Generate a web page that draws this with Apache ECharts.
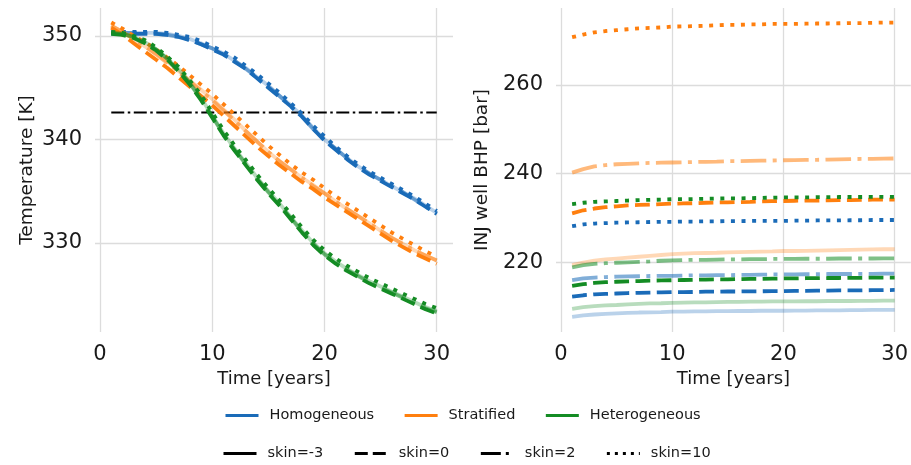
<!DOCTYPE html>
<html>
<head>
<meta charset="utf-8">
<script src="https://cdn.jsdelivr.net/npm/echarts@6/dist/echarts.min.js"></script>
<style>
html,body{margin:0;padding:0;background:#fff;}
#c{width:911px;height:465px;}
</style>
</head>
<body>
<div id="c"></div>
<script>
// ---------------- DATA ----------------
const years = [1,2,3,4,5,6,7,8,9,10,11,12,13,14,15,16,17,18,19,20,21,22,23,24,25,26,27,28,29,30];
const xTicks = [0, 10, 20, 30];

// Temperature [K] (left panel)
const tempHom_m3 = [350.3,350.3,350.3,350.3,350.3,350.2,350.0,349.7,349.3,348.8,348.3,347.6,346.9,346.0,345.2,344.2,343.3,342.3,341.1,340.0,339.1,338.2,337.4,336.7,336.1,335.5,334.9,334.3,333.6,332.9];
const tempHom_0  = [350.2,350.2,350.2,350.2,350.2,350.1,349.9,349.6,349.2,348.7,348.2,347.5,346.8,345.9,345.0,344.1,343.2,342.2,341.0,339.9,339.0,338.1,337.3,336.6,336.0,335.4,334.8,334.2,333.5,332.8];
const tempHom_2  = [350.3,350.3,350.3,350.3,350.2,350.1,349.9,349.6,349.2,348.8,348.2,347.6,346.8,346.0,345.1,344.2,343.2,342.2,341.0,340.0,339.1,338.2,337.4,336.7,336.1,335.5,334.9,334.2,333.5,332.9];
const tempHom_10 = [350.4,350.4,350.4,350.4,350.4,350.3,350.1,349.9,349.5,349.0,348.5,347.9,347.1,346.3,345.4,344.5,343.5,342.5,341.3,340.3,339.3,338.4,337.6,336.9,336.3,335.7,335.1,334.5,333.8,333.1];

const tempStr_m3 = [351.0,350.4,349.7,349.0,348.3,347.5,346.6,345.7,344.8,343.9,342.9,341.9,340.8,339.8,338.8,337.9,337.1,336.3,335.6,334.8,334.0,333.3,332.6,331.9,331.2,330.5,329.9,329.3,328.8,328.3];
const tempStr_0  = [350.8,350.1,349.3,348.5,347.7,346.9,346.0,345.1,344.2,343.3,342.3,341.3,340.3,339.3,338.4,337.5,336.7,335.9,335.2,334.4,333.7,333.0,332.3,331.6,330.9,330.2,329.6,329.0,328.5,328.0];
const tempStr_2  = [351.0,350.4,349.7,349.0,348.2,347.4,346.5,345.6,344.7,343.8,342.8,341.8,340.8,339.8,338.8,337.9,337.1,336.3,335.5,334.8,334.0,333.3,332.6,331.9,331.2,330.5,329.9,329.3,328.8,328.3];
const tempStr_10 = [351.3,350.7,350.0,349.4,348.7,347.9,347.1,346.2,345.3,344.4,343.4,342.4,341.4,340.4,339.4,338.5,337.6,336.8,336.1,335.3,334.5,333.8,333.1,332.4,331.7,331.0,330.4,329.8,329.2,328.7];

const tempHet_m3 = [350.3,350.2,349.9,349.4,348.7,347.8,346.8,345.5,344.0,342.3,340.6,339.1,337.7,336.3,335.0,333.8,332.5,331.2,330.0,329.0,328.2,327.5,326.9,326.3,325.8,325.3,324.8,324.3,323.8,323.4];
const tempHet_0  = [350.2,350.1,349.8,349.3,348.6,347.7,346.6,345.3,343.8,342.1,340.4,338.9,337.5,336.1,334.8,333.6,332.3,331.0,329.8,328.8,328.0,327.3,326.7,326.1,325.6,325.1,324.6,324.1,323.6,323.2];
const tempHet_2  = [350.3,350.2,349.9,349.4,348.7,347.8,346.7,345.4,343.9,342.2,340.5,339.0,337.6,336.2,334.9,333.7,332.4,331.1,329.9,328.9,328.1,327.4,326.8,326.2,325.7,325.2,324.7,324.2,323.7,323.3];
const tempHet_10 = [350.4,350.3,350.0,349.6,348.9,348.0,347.0,345.7,344.3,342.6,340.9,339.4,338.0,336.6,335.3,334.1,332.8,331.5,330.3,329.3,328.5,327.8,327.2,326.6,326.1,325.6,325.1,324.6,324.1,323.7];

const tempLimit = 342.6;
const tempLimitYears = [1, 30];

// INJ well BHP [bar] (right panel)
const bhpHom_m3 = [207.6,207.95,208.15,208.3,208.4,208.5,208.6,208.65,208.7,208.8,208.8,208.85,208.85,208.9,208.9,208.95,208.95,209.0,209.0,209.0,209.05,209.05,209.1,209.1,209.1,209.15,209.15,209.2,209.2,209.2];
const bhpHom_0  = [212.2,212.5,212.7,212.8,212.9,213.0,213.05,213.1,213.15,213.2,213.2,213.25,213.3,213.3,213.35,213.35,213.4,213.4,213.45,213.45,213.5,213.5,213.55,213.55,213.6,213.6,213.6,213.65,213.65,213.7];
const bhpHom_2  = [215.9,216.3,216.5,216.6,216.7,216.75,216.8,216.85,216.9,216.9,216.95,217.0,217.0,217.05,217.05,217.1,217.1,217.15,217.2,217.2,217.2,217.25,217.25,217.3,217.3,217.3,217.35,217.35,217.4,217.4];
const bhpHom_10 = [228.1,228.5,228.7,228.8,228.9,228.95,229.0,229.05,229.1,229.1,229.15,229.15,229.2,229.2,229.25,229.25,229.3,229.3,229.3,229.3,229.35,229.35,229.4,229.4,229.4,229.45,229.45,229.5,229.5,229.5];

const bhpStr_m3 = [219.3,219.9,220.3,220.6,220.8,221.0,221.2,221.4,221.6,221.8,221.9,222.0,222.05,222.1,222.2,222.25,222.3,222.35,222.4,222.5,222.5,222.55,222.6,222.65,222.7,222.75,222.8,222.85,222.9,222.9];
const bhpStr_0  = [231.0,231.7,232.1,232.4,232.6,232.8,232.9,233.0,233.1,233.2,233.25,233.3,233.4,233.45,233.5,233.55,233.6,233.7,233.75,233.8,233.85,233.9,233.9,233.95,234.0,234.0,234.05,234.1,234.1,234.1];
const bhpStr_2  = [240.2,241.0,241.6,241.9,242.1,242.2,242.3,242.4,242.45,242.5,242.55,242.6,242.65,242.7,242.8,242.8,242.85,242.9,242.95,243.0,243.05,243.1,243.1,243.15,243.2,243.25,243.3,243.3,243.35,243.4];
const bhpStr_10 = [270.8,271.4,271.9,272.2,272.4,272.6,272.8,272.9,273.0,273.2,273.25,273.3,273.4,273.5,273.6,273.6,273.7,273.7,273.8,273.8,273.8,273.85,273.9,273.9,273.95,274.0,274.0,274.05,274.1,274.1];

const bhpHet_m3 = [209.4,209.8,210.05,210.2,210.3,210.45,210.55,210.65,210.7,210.8,210.85,210.9,210.9,210.95,211.0,211.0,211.05,211.05,211.1,211.1,211.1,211.15,211.15,211.2,211.2,211.2,211.25,211.25,211.3,211.3];
const bhpHet_0  = [214.6,215.0,215.3,215.45,215.55,215.65,215.7,215.8,215.85,215.9,215.95,216.0,216.05,216.1,216.1,216.15,216.2,216.2,216.25,216.3,216.3,216.35,216.35,216.4,216.4,216.45,216.45,216.5,216.5,216.5];
const bhpHet_2  = [218.8,219.3,219.6,219.75,219.85,219.95,220.05,220.15,220.3,220.4,220.45,220.5,220.5,220.55,220.6,220.6,220.65,220.65,220.7,220.7,220.7,220.75,220.75,220.75,220.8,220.8,220.8,220.8,220.85,220.85];
const bhpHet_10 = [233.1,233.4,233.6,233.7,233.8,233.9,234.0,234.05,234.1,234.2,234.2,234.25,234.3,234.35,234.4,234.4,234.45,234.5,234.55,234.6,234.6,234.6,234.65,234.65,234.7,234.7,234.7,234.75,234.75,234.75];

const caseNames = ['Homogeneous', 'Stratified', 'Heterogeneous'];
const skinNames = ['skin=-3', 'skin=0', 'skin=2', 'skin=10'];

// ---------------- STYLE ----------------
const FONT = 'DejaVu Sans';
const caseColors = ['#1a6bb8', '#ff7f0e', '#148c24'];
const skinStyles = [
  { type: 'solid', opacity: 0.3 },
  { type: [14.8, 6.4], opacity: 1 },
  { type: [25.6, 6.4, 4, 6.4], opacity: 0.55 },
  { type: [4, 6.6], opacity: 1 }
];
const LW = 3.8;

const tempData = [
  [tempHom_m3, tempHom_0, tempHom_2, tempHom_10],
  [tempStr_m3, tempStr_0, tempStr_2, tempStr_10],
  [tempHet_m3, tempHet_0, tempHet_2, tempHet_10]
];
const bhpData = [
  [bhpHom_m3, bhpHom_0, bhpHom_2, bhpHom_10],
  [bhpStr_m3, bhpStr_0, bhpStr_2, bhpStr_10],
  [bhpHet_m3, bhpHet_0, bhpHet_2, bhpHet_10]
];

const series = [];
function addSet(sets, axisIdx, tag) {
  sets.forEach((group, ci) => {
    group.forEach((vals, si) => {
      series.push({
        type: 'line',
        name: tag + ' ' + caseNames[ci] + ' ' + skinNames[si],
        xAxisIndex: axisIdx, yAxisIndex: axisIdx,
        data: years.map((t, i) => [t, vals[i]]),
        symbol: 'none', silent: true,
        lineStyle: { color: caseColors[ci], width: LW, type: skinStyles[si].type, opacity: skinStyles[si].opacity, cap: 'butt' }
      });
    });
  });
}
addSet(tempData, 0, 'T');
addSet(bhpData, 1, 'P');

series.push({
  type: 'line', name: 'limit', xAxisIndex: 0, yAxisIndex: 0,
  data: tempLimitYears.map(t => [t, tempLimit]),
  symbol: 'none', silent: true, z: 1,
  lineStyle: { color: '#000', width: 2, type: [13, 3.5, 2.5, 3.5] }
});

// legend-only series
caseNames.forEach((n, ci) => series.push({
  type: 'line', name: n, xAxisIndex: 0, yAxisIndex: 0, data: [], symbol: 'none',
  itemStyle: { color: caseColors[ci] },
  lineStyle: { color: caseColors[ci], width: 3, type: 'solid' }
}));
skinNames.forEach((n, si) => series.push({
  type: 'line', name: n, xAxisIndex: 0, yAxisIndex: 0, data: [], symbol: 'none',
  itemStyle: { color: '#000' },
  lineStyle: { color: '#000', width: 3, type: si === 0 ? 'solid' : (si === 1 ? [13, 5] : (si === 2 ? [20, 5, 3, 5] : [3, 5])) }
}));

function xAxis(idx) {
  return {
    type: 'value', gridIndex: idx, min: -0.45, max: 31.45, minInterval: 10, maxInterval: 10,
    name: 'Time [years]', nameLocation: 'middle', nameGap: 38,
    nameTextStyle: { fontFamily: FONT, fontSize: 18, color: '#1a1a1a' },
    axisLine: { show: false }, axisTick: { show: false },
    axisLabel: { fontFamily: FONT, fontSize: 21, color: '#1a1a1a', margin: 12, showMinLabel: false, showMaxLabel: false },
    splitLine: { show: true, showMinLine: false, showMaxLine: false, lineStyle: { color: '#dcdcdc', width: 1.3 } }
  };
}
function yAxis(idx, min, max, step, name, gap) {
  return {
    type: 'value', gridIndex: idx, min: min, max: max, minInterval: step, maxInterval: step,
    name: name, nameLocation: 'middle', nameGap: gap,
    nameTextStyle: { fontFamily: FONT, fontSize: 18.5, color: '#1a1a1a' },
    axisLine: { show: false }, axisTick: { show: false },
    axisLabel: { fontFamily: FONT, fontSize: 21, color: '#1a1a1a', margin: 13, showMinLabel: false, showMaxLabel: false },
    splitLine: { show: true, showMinLine: false, showMaxLine: false, lineStyle: { color: '#dcdcdc', width: 1.3 } }
  };
}

const legendCommon = {
  orient: 'horizontal', itemWidth: 33, itemHeight: 14, padding: 0,
  textStyle: { fontFamily: FONT, fontSize: 14.5, color: '#1a1a1a', padding: [0, 0, 0, 6] },
  itemStyle: { opacity: 0 },
  lineStyle: { width: 3 },
  selectedMode: false
};

const chart = echarts.init(document.getElementById('c'), null, { renderer: 'canvas' });
chart.setOption({
  animation: false,
  backgroundColor: '#fff',
  grid: [
    { left: 95, top: 8, width: 358, height: 324 },
    { left: 556, top: 8, width: 358, height: 324 }
  ],
  xAxis: [xAxis(0), xAxis(1)],
  yAxis: [
    yAxis(0, 321.4, 352.7, 10, 'Temperature [K]', 58),
    yAxis(1, 204.2, 277.4, 20, 'INJ well BHP [bar]', 64)
  ],
  legend: [
    Object.assign({}, legendCommon, { data: caseNames, left: 224, top: 408, itemGap: 29 }),
    Object.assign({}, legendCommon, { data: skinNames, left: 222, top: 446, itemGap: 30 })
  ],
  series: series
});
</script>
</body>
</html>
